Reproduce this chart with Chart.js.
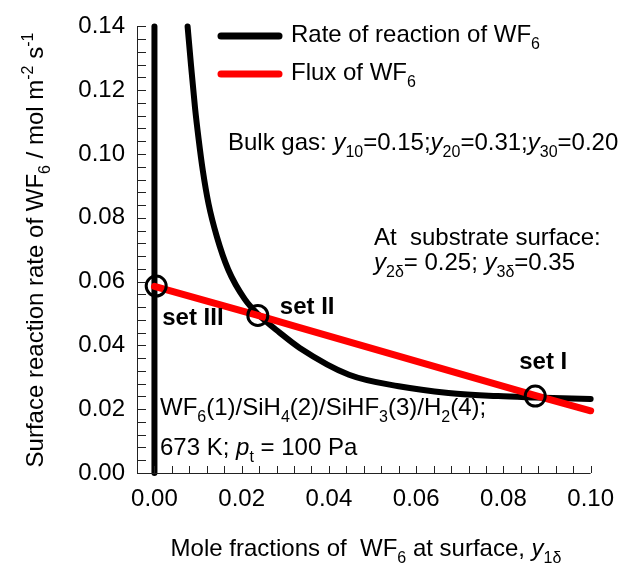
<!DOCTYPE html>
<html>
<head>
<meta charset="utf-8">
<script src="https://cdn.jsdelivr.net/npm/chart.js@4.4.0/dist/chart.umd.min.js"></script>
<style>
  body { margin: 0; background: #fff; }
  #wrap { width: 626px; height: 569px; }
</style>
</head>
<body>
<div id="wrap"><canvas id="chart1"></canvas></div>
<script>
// values
var rateX = [0.0076, 0.0084, 0.0093, 0.0101, 0.0111, 0.0124, 0.0143, 0.0169, 0.0207, 0.0238, 0.0287, 0.0333, 0.0446, 0.0560, 0.0674, 0.0788, 0.0872, 0.1000];
var rateY = [0.1400, 0.1276, 0.1145, 0.1050, 0.0947, 0.0844, 0.0741, 0.0638, 0.0545, 0.0497, 0.0440, 0.0392, 0.0308, 0.0272, 0.0251, 0.0241, 0.0237, 0.0232];

var fluxX = [0.0000, 0.0237, 0.0333, 0.0872, 0.1000];
var fluxY = [0.0585, 0.0494, 0.0456, 0.0243, 0.0195];

var wallX = [0, 0];
var wallY = [0, 0.14];

var setX = [0.0873, 0.0237, 0.0004];
var setY = [0.0241, 0.0494, 0.0586];
var setNames = ["set I", "set II", "set III"];

var xLabelTicks = [0, 0.02, 0.04, 0.06, 0.08, 0.10];
var yLabelTicks = [0, 0.02, 0.04, 0.06, 0.08, 0.10, 0.12, 0.14];

function pts(xs, ys) {
    return xs.map(function (x, i) { return {x: x, y: ys[i]}; });
}

var FONT = '"Liberation Sans", Arial, sans-serif';
var SIZE = 24;

// draw text made of pieces, some of them sub/superscript
function segFont(s, size) {
    var sz = (s.s ? Math.round(size * 0.68) : size);
    return (s.i ? 'italic ' : '') + (s.b ? 'bold ' : '') + sz + 'px ' + FONT;
}
function richWidth(ctx, segs, size) {
    var w = 0;
    segs.forEach(function (s) {
        ctx.font = segFont(s, size);
        w += ctx.measureText(s.t).width;
    });
    return w;
}
function drawRich(ctx, segs, x, y, size, align) {
    var w = richWidth(ctx, segs, size);
    if (align === 'center') x -= w / 2;
    ctx.textAlign = 'left';
    ctx.textBaseline = 'alphabetic';
    ctx.fillStyle = '#000';
    segs.forEach(function (s) {
        ctx.font = segFont(s, size);
        var dy = s.s === 'sub' ? size * 0.3 : (s.s === 'sup' ? -size * 0.4 : 0);
        ctx.fillText(s.t, x, y + dy);
        x += ctx.measureText(s.t).width;
    });
}

var decor = {
    id: 'decor',
    afterDatasetsDraw: function (chart) {
        var ctx = chart.ctx;
        var xs = chart.scales.x, ys = chart.scales.y;
        var ca = chart.chartArea;
        ctx.save();
        // axis lines
        ctx.strokeStyle = '#222';
        ctx.lineWidth = 1;
        ctx.beginPath();
        ctx.moveTo(ca.left + 0.5, ca.top);
        ctx.lineTo(ca.left + 0.5, ca.bottom + 0.5);
        ctx.lineTo(ca.right, ca.bottom + 0.5);
        ctx.stroke();
        // inward ticks
        ctx.beginPath();
        ys.ticks.forEach(function (t) {
            var py = Math.round(ys.getPixelForValue(t.value)) + 0.5;
            ctx.moveTo(ca.left, py);
            ctx.lineTo(ca.left + 9, py);
        });
        xs.ticks.forEach(function (t) {
            if (t.value < -1e-9) return;
            var px = Math.round(xs.getPixelForValue(t.value)) + 0.5;
            ctx.moveTo(px, ca.bottom);
            ctx.lineTo(px, ca.bottom - 7);
        });
        ctx.stroke();
        ctx.restore();
    },
    afterDraw: function (chart) {
        var ctx = chart.ctx;
        var xs = chart.scales.x, ys = chart.scales.y;
        ctx.save();
        // legend
        ctx.lineCap = 'round';
        ctx.lineWidth = 7;
        ctx.strokeStyle = '#000';
        ctx.beginPath(); ctx.moveTo(221, 36); ctx.lineTo(279, 36); ctx.stroke();
        ctx.strokeStyle = '#ff0000';
        ctx.beginPath(); ctx.moveTo(221, 74); ctx.lineTo(279, 74); ctx.stroke();
        drawRich(ctx, [{t: 'Rate of reaction of WF'}, {t: '6', s: 'sub'}], 291, 42, SIZE);
        drawRich(ctx, [{t: 'Flux of WF'}, {t: '6', s: 'sub'}], 291, 80, SIZE);

        drawRich(ctx, [{t: 'Bulk gas: '}, {t: 'y', i: 1}, {t: '10', s: 'sub'}, {t: '=0.15;'},
            {t: 'y', i: 1}, {t: '20', s: 'sub'}, {t: '=0.31;'}, {t: 'y', i: 1}, {t: '30', s: 'sub'}, {t: '=0.20'}],
            228, 150, SIZE);
        drawRich(ctx, [{t: 'At  substrate surface:'}], 374, 245, SIZE);
        drawRich(ctx, [{t: 'y', i: 1}, {t: '2\u03b4', s: 'sub'}, {t: '= 0.25; '}, {t: 'y', i: 1}, {t: '3\u03b4', s: 'sub'}, {t: '=0.35'}],
            374, 270, SIZE);

        drawRich(ctx, [{t: 'WF'}, {t: '6', s: 'sub'}, {t: '(1)/SiH'}, {t: '4', s: 'sub'}, {t: '(2)/SiHF'},
            {t: '3', s: 'sub'}, {t: '(3)/H'}, {t: '2', s: 'sub'}, {t: '(4);'}], 160, 415, SIZE);
        drawRich(ctx, [{t: '673 K; '}, {t: 'p', i: 1}, {t: 't', s: 'sub'}, {t: ' = 100 Pa'}], 160, 455, SIZE);

        // set labels, placed relative to their points
        var off = [[-16, -27], [22, -1], [6, 39]];
        setNames.forEach(function (n, i) {
            var px = xs.getPixelForValue(setX[i]) + off[i][0];
            var py = ys.getPixelForValue(setY[i]) + off[i][1];
            drawRich(ctx, [{t: n, b: 1}], px, py, SIZE);
        });

        // axis titles
        drawRich(ctx, [{t: 'Mole fractions of  WF'}, {t: '6', s: 'sub'}, {t: ' at surface, '},
            {t: 'y', i: 1}, {t: '1\u03b4', s: 'sub'}], 366, 556, SIZE, 'center');
        ctx.translate(43, 250);
        ctx.rotate(-Math.PI / 2);
        drawRich(ctx, [{t: 'Surface reaction rate of WF'}, {t: '6', s: 'sub'}, {t: ' / mol m'},
            {t: '-2', s: 'sup'}, {t: ' s'}, {t: '-1', s: 'sup'}], 0, 0, SIZE, 'center');
        ctx.restore();
    }
};

var ctx = document.getElementById('chart1').getContext('2d');
var chart = new Chart(ctx, {
    type: 'scatter',
    data: {
        datasets: [{
            label: 'sets',
            data: pts(setX, setY),
            pointRadius: 10,
            pointHoverRadius: 10,
            pointBorderWidth: 3,
            pointBorderColor: '#000',
            pointBackgroundColor: 'rgba(0,0,0,0)',
            showLine: false,
            clip: false
        }, {
            label: 'Flux of WF6',
            data: pts(fluxX, fluxY),
            borderColor: '#ff0000',
            borderWidth: 7,
            borderCapStyle: 'round',
            showLine: true,
            pointRadius: 0,
            clip: false
        }, {
            label: 'Rate of reaction of WF6',
            data: pts(rateX, rateY),
            borderColor: '#000',
            borderWidth: 6,
            borderCapStyle: 'round',
            cubicInterpolationMode: 'monotone',
            showLine: true,
            pointRadius: 0,
            clip: false
        }, {
            label: 'wall',
            data: pts(wallX, wallY),
            borderColor: '#000',
            borderWidth: 6,
            borderCapStyle: 'round',
            showLine: true,
            pointRadius: 0,
            clip: false
        }]
    },
    options: {
        responsive: true,
        maintainAspectRatio: false,
        animation: false,
        layout: { padding: { left: 0, right: 33, top: 20, bottom: 0 } },
        plugins: { legend: { display: false }, tooltip: { enabled: false } },
        scales: {
            x: {
                type: 'linear',
                min: -0.004,
                max: 0.1,
                afterFit: function (s) { s.height = 96; },
                grid: { display: false, drawTicks: false },
                border: { display: false },
                ticks: {
                    stepSize: 0.004,
                    autoSkip: false,
                    maxRotation: 0,
                    padding: 12,
                    color: '#000',
                    font: { family: FONT, size: SIZE },
                    callback: function (v) {
                        var hit = xLabelTicks.find(function (t) { return Math.abs(t - v) < 1e-6; });
                        return hit === undefined ? '' : hit.toFixed(2);
                    }
                }
            },
            y: {
                min: 0,
                max: 0.14,
                afterFit: function (s) { s.width = 137; },
                grid: { display: false, drawTicks: false },
                border: { display: false },
                ticks: {
                    stepSize: 0.004,
                    autoSkip: false,
                    padding: 12,
                    color: '#000',
                    font: { family: FONT, size: SIZE },
                    callback: function (v) {
                        var hit = yLabelTicks.find(function (t) { return Math.abs(t - v) < 1e-6; });
                        return hit === undefined ? '' : hit.toFixed(2);
                    }
                }
            }
        }
    },
    plugins: [decor]
});
</script>
</body>
</html>
